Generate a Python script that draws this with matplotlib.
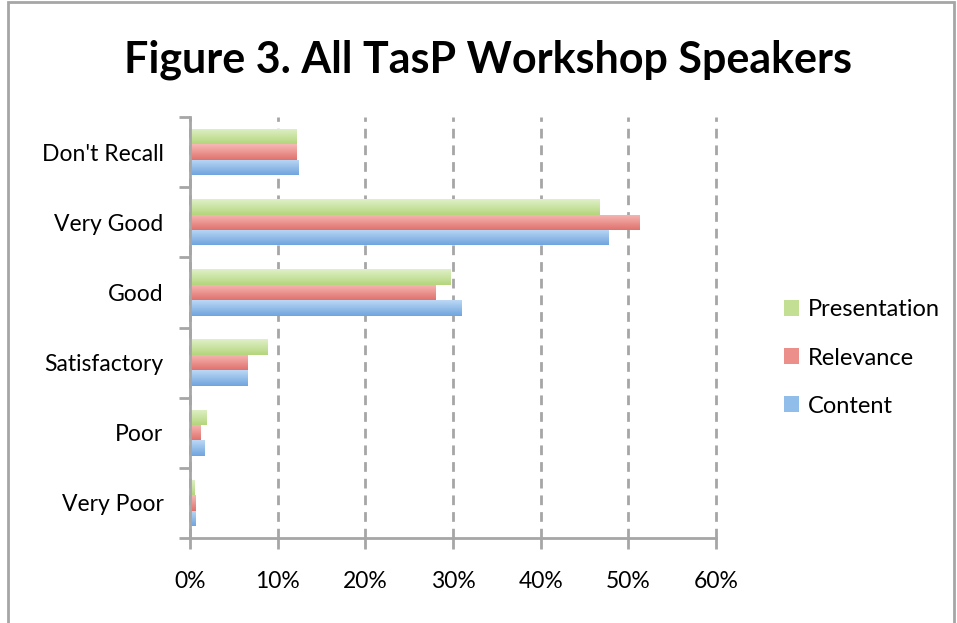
import matplotlib
matplotlib.use("Agg")
import matplotlib.pyplot as plt
import numpy as np
from matplotlib.patches import Rectangle
from matplotlib.colors import LinearSegmentedColormap

# survey answers, top to bottom as in the chart
categories = ["Don't Recall", "Very Good", "Good", "Satisfactory", "Poor", "Very Poor"]
presentation = [12.2, 46.7, 29.7, 8.8, 1.9, 0.5]
relevance = [12.2, 51.3, 28.0, 6.6, 1.2, 0.6]
content = [12.4, 47.7, 31.0, 6.6, 1.6, 0.6]
series_names = ["Presentation", "Relevance", "Content"]
xticks = [0, 10, 20, 30, 40, 50, 60]

plt.rcParams['font.family'] = ['Lato', 'DejaVu Sans']

fig = plt.figure(figsize=(9.57, 6.23), dpi=100)
ax = fig.add_axes([190/957, 1-538/623, 526/957, 421/623])

colors = ["#c3df94", "#ec8f8b", "#90bdea"]
# light top -> darker bottom, like the office-style bars
grads = [("#e0f0c8", "#b4d67c"), ("#f7b9b6", "#df726d"), ("#bcd8f5", "#6fa5dd")]
h = 0.22
y = np.arange(len(categories))
ramp = np.linspace(0, 1, 64).reshape(-1, 1)
for i, (vals, name) in enumerate(zip([presentation, relevance, content], series_names)):
    bars = ax.barh(y + (i-1)*h, vals, height=h, color=colors[i], edgecolor="none", label=name, zorder=3)
    cmap = LinearSegmentedColormap.from_list("g%d" % i, grads[i])
    for b in bars:
        x0, yb = b.get_x(), b.get_y()
        im = ax.imshow(ramp, cmap=cmap, aspect="auto", origin="upper",
                       extent=(x0, x0 + b.get_width(), yb + h, yb), zorder=3.5)
        im.set_clip_path(b)

ax.set_xlim(0, 60)
ax.set_ylim(len(categories)-0.5, -0.5)
ax.set_xticks(xticks)
ax.set_xticklabels([str(t) + "%" for t in xticks])
ax.set_yticks(y)
ax.set_yticklabels(categories)
ax.set_yticks(np.arange(-0.5, len(categories)), minor=True)

grey = "#a6a6a6"
ax.xaxis.grid(True, linestyle=(0, (3.5, 2.5)), color=grey, linewidth=2, zorder=0)
for gl in ax.get_xgridlines():
    gl.set_clip_on(False)
for s in ["top", "right"]:
    ax.spines[s].set_visible(False)
for s in ["left", "bottom"]:
    ax.spines[s].set_color(grey)
    ax.spines[s].set_linewidth(2)
    ax.spines[s].set_zorder(4)

ax.tick_params(axis="y", which="major", length=0, pad=19, labelsize=16.5)
ax.tick_params(axis="y", which="minor", length=8, width=2, color=grey)
ax.tick_params(axis="x", which="major", length=8, width=2, color=grey, pad=16, labelsize=16.5)

fig.text(488/957, 1-60/623, "Figure 3. All TasP Workshop Speakers", ha="center", va="center",
         fontsize=31, fontweight="bold")

leg = ax.legend(loc="center left", bbox_to_anchor=(772/957, 1-358/623), bbox_transform=fig.transFigure,
                frameon=False, fontsize=17, handlelength=0.65, handleheight=0.65,
                handletextpad=0.35, labelspacing=1.15, borderpad=0)

fig.patches.append(Rectangle((8/957, -0.01), 946/957, 1-2/623 + 0.01, transform=fig.transFigure,
                             fill=False, edgecolor=grey, linewidth=2))

fig.savefig("out.png", dpi=100)
